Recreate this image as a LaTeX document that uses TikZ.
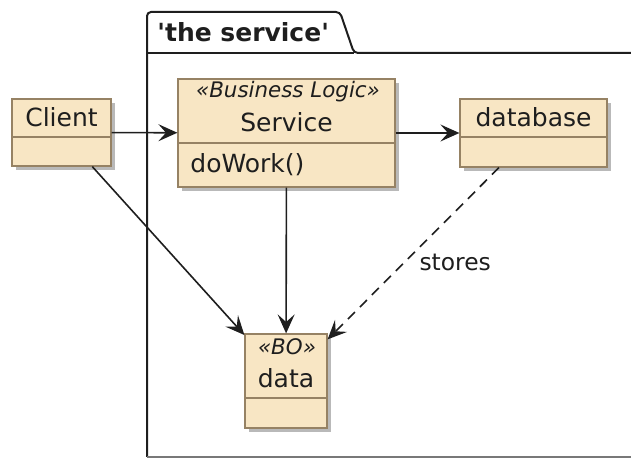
\documentclass[tikz,border=0pt]{standalone}
\usepackage{fontspec}
\setmainfont{DejaVu Sans}[Ligatures=TeXOff]
\usepackage{xcolor}
\usetikzlibrary{arrows.meta,shadows,positioning}
\definecolor{boxfill}{RGB}{248,230,196}
\definecolor{boxline}{RGB}{150,130,100}
\definecolor{ink}{RGB}{30,30,30}

\begin{document}
\begin{tikzpicture}[
    x=0.5pt, y=-0.5pt,
    cls/.style={rectangle, draw=boxline, fill=boxfill, line width=0.6pt, inner sep=0pt,
        drop shadow={shadow xshift=2pt, shadow yshift=-2pt, fill=black!50, opacity=0.55}},
    divider/.style={draw=boxline, line width=0.6pt},
    clsname/.style={font=\fontsize{12.5}{14}\selectfont, text=ink, inner sep=0pt, anchor=base},
    stereo/.style={font=\fontsize{10.7}{12}\selectfont\itshape, text=ink, inner sep=0pt, anchor=base},
    pkgtitle/.style={font=\fontsize{12.5}{14}\selectfont\bfseries, text=ink, inner sep=0pt, anchor=base west},
    arrow/.style={-{Stealth[length=9.5pt, width=8.5pt, inset=3.8pt]}, line width=0.8pt, draw=ink}
]
    \useasboundingbox (0,0) rectangle (631,458);

    % Package frame
    \draw[ink, line width=1pt, rounded corners=2pt] (147,457) -- (147,12) -- (340,12) -- (354,53) -- (631,53);
    \draw[ink, line width=1pt] (147,53) -- (354,53);
    \draw[ink!60, line width=1pt] (147,457) -- (631,457);
    \node[pkgtitle] (pkg) at (157,42) {'the service'};

    % Client
    \node[cls, minimum width=49.5pt, minimum height=33.5pt] (client) at (61.5,132.5) {};
    \node[clsname] (clientname) at (61.5,127) {Client};
    \draw[divider] (client.west |- 0,137) -- (client.east |- 0,137);

    % Service
    \node[cls, minimum width=108.5pt, minimum height=54pt] (svc) at (286.5,133) {};
    \node[stereo] (svcstereo) at (288,98) {«Business Logic»};
    \node[clsname] (svcname) at (286.5,132) {Service};
    \draw[divider] (svc.west |- 0,143) -- (svc.east |- 0,143);
    \node[clsname, anchor=base west] (svcop) at (190,173) {doWork()};

    % Database
    \node[cls, minimum width=73.5pt, minimum height=34pt] (db) at (533.5,133) {};
    \node[clsname] (dbname) at (533.5,127) {database};
    \draw[divider] (db.west |- 0,137) -- (db.east |- 0,137);

    % Data
    \node[cls, minimum width=41pt, minimum height=47pt] (data) at (286,381) {};
    \node[stereo] (datastereo) at (287,355) {«BO»};
    \node[clsname] (dataname) at (286,388) {data};
    \draw[divider] (data.west |- 0,398) -- (data.east |- 0,398);

    % Links
    \draw[arrow] (client) -- (svc);
    \draw[arrow] (svc) -- (db);
    \draw[arrow] (svc) -- (data);
    \draw[arrow] (client) -- (data);
    \draw[arrow, dash pattern=on 5pt off 3.5pt] (db) -- (data)
        node[pos=0.55, right=7pt, inner sep=0pt, font=\fontsize{11.7}{13}\selectfont, text=ink] (storeslbl) {stores};

\end{tikzpicture}
\end{document}
